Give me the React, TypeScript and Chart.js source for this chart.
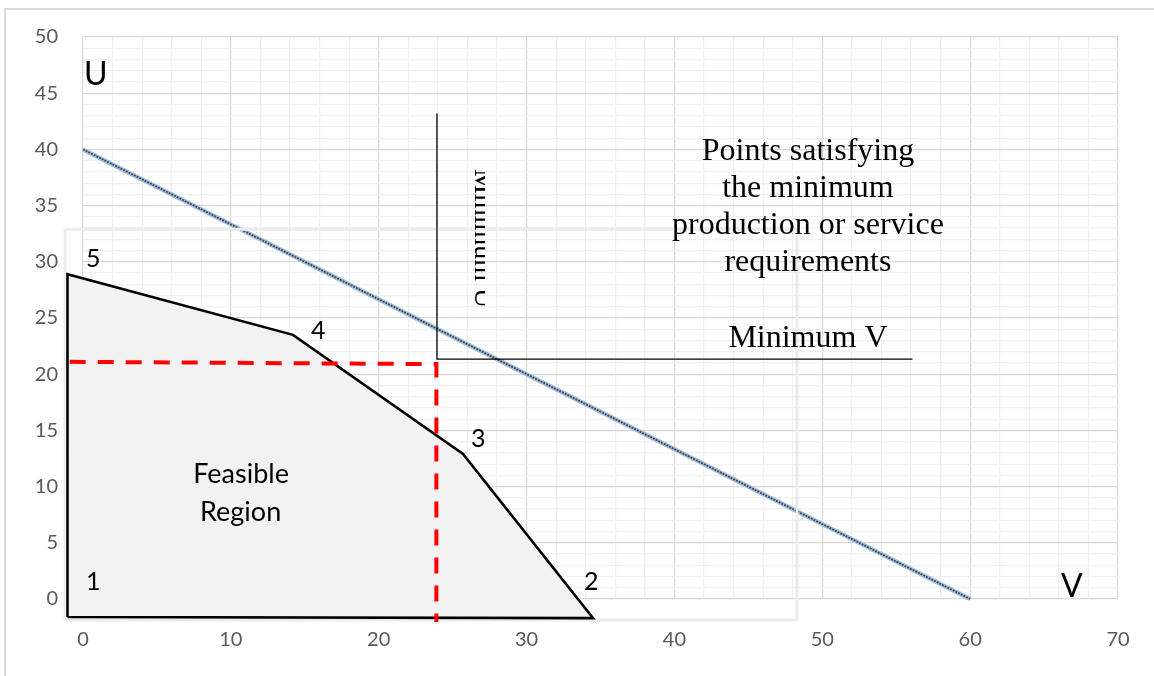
import React, { useEffect, useRef } from "react";
import { Chart, registerables } from "chart.js";

Chart.register(...registerables);

// ---- data (V on x axis, U on y axis) ----
const feasibleV = [-1.05, 34.5, 25.7, 14.2, -1.05, -1.05];
const feasibleU = [-1.6, -1.7, 12.9, 23.5, 28.9, -1.6];

const isoV = [0, 60];
const isoU = [40, 0];

const dashV = [-0.9, 23.9, 23.9];
const dashU = [21.1, 20.9, -2.05];

const minLinesV = [23.94, 23.94, 56.1];
const minLinesU = [43.2, 21.35, 21.35];

const boxV = [-1.22, 48.29, 48.29, -1.22, -1.22];
const boxU = [32.9, 32.9, -1.87, -1.87, 32.9];

const xTickLabels = [0, 10, 20, 30, 40, 50, 60, 70];
const yTickLabels = [0, 5, 10, 15, 20, 25, 30, 35, 40, 45, 50];

const SANS = 'Lato, "Open Sans", sans-serif';
const SERIF = '"Liberation Serif", "DejaVu Serif", serif';

type Note = { text: string; v: number; u: number; size: number; family: string; align: CanvasTextAlign };
const notes: Note[] = [
  { text: "U", v: 0.07, u: 45.73, size: 32, family: SANS, align: "left" },
  { text: "5", v: 0.2, u: 29.54, size: 25, family: SANS, align: "left" },
  { text: "4", v: 15.42, u: 23.13, size: 25, family: SANS, align: "left" },
  { text: "3", v: 26.24, u: 13.52, size: 25, family: SANS, align: "left" },
  { text: "2", v: 33.88, u: 0.8, size: 25, family: SANS, align: "left" },
  { text: "1", v: 0.2, u: 0.8, size: 25, family: SANS, align: "left" },
  { text: "V", v: 66.14, u: 0.18, size: 32, family: SANS, align: "left" },
  { text: "Feasible", v: 10.69, u: 10.32, size: 27, family: SANS, align: "center" },
  { text: "Region", v: 10.66, u: 6.94, size: 27, family: SANS, align: "center" },
  { text: "Points satisfying", v: 49.03, u: 39.06, size: 32, family: SERIF, align: "center" },
  { text: "the minimum", v: 49.03, u: 35.77, size: 32, family: SERIF, align: "center" },
  { text: "production or service", v: 49.03, u: 32.47, size: 32, family: SERIF, align: "center" },
  { text: "requirements", v: 49.03, u: 29.18, size: 32, family: SERIF, align: "center" },
  { text: "Minimum V", v: 49.03, u: 22.42, size: 32, family: SERIF, align: "center" },
];

const pts = (xs: number[], ys: number[]) => xs.map((x, i) => ({ x, y: ys[i] }));

const fillPlugin = {
  id: "feasibleFill",
  beforeDatasetsDraw(chart: any) {
    const idx = chart.data.datasets.findIndex((d: any) => d.label === "Feasible");
    const meta = chart.getDatasetMeta(idx);
    const ctx = chart.ctx;
    ctx.save();
    ctx.beginPath();
    meta.data.forEach((p: any, i: number) => (i === 0 ? ctx.moveTo(p.x, p.y) : ctx.lineTo(p.x, p.y)));
    ctx.closePath();
    ctx.fillStyle = "#f2f2f2";
    ctx.fill();
    ctx.restore();
  },
};

const textPlugin = {
  id: "notes",
  afterDatasetsDraw(chart: any) {
    const ctx = chart.ctx;
    const xs = chart.scales.x;
    const ys = chart.scales.y;
    ctx.save();
    ctx.fillStyle = "#000";
    ctx.textBaseline = "alphabetic";
    notes.forEach((n) => {
      ctx.font = `${n.size}px ${n.family}`;
      ctx.textAlign = n.align;
      ctx.fillText(n.text, xs.getPixelForValue(n.v), ys.getPixelForValue(n.u));
    });
    // rotated, clipped "Minimum U" label
    const bx = xs.getPixelForValue(26.51);
    const by = ys.getPixelForValue(38.26);
    ctx.beginPath();
    ctx.rect(bx - 1, by - 6, 11, 150);
    ctx.clip();
    ctx.translate(bx, by);
    ctx.rotate(Math.PI / 2);
    ctx.font = `28px ${SERIF}`;
    ctx.textAlign = "left";
    ctx.fillText("Minimum U", 0, 0);
    ctx.restore();
  },
};

export default function App() {
  const ref = useRef<HTMLCanvasElement>(null);
  useEffect(() => {
    if (!ref.current) return;
    const chart = new Chart(ref.current, {
      type: "line",
      data: {
        datasets: [
          {
            label: "MinLines",
            data: pts(minLinesV, minLinesU),
            borderColor: "#000",
            borderWidth: 1.3,
            pointRadius: 0,
            clip: false,
            order: 1,
          } as any,
          {
            label: "Dash",
            data: pts(dashV, dashU),
            borderColor: "#ff0000",
            borderWidth: 4,
            borderDash: [16, 12],
            pointRadius: 0,
            clip: false,
            order: 2,
          } as any,
          {
            label: "Feasible",
            data: pts(feasibleV, feasibleU),
            borderColor: "#000",
            borderWidth: 2.6,
            pointRadius: 0,
            clip: false,
            order: 3,
          } as any,
          {
            label: "Box",
            data: pts(boxV, boxU),
            borderColor: "#ececec",
            borderWidth: 3,
            pointRadius: 0,
            clip: false,
            order: 5,
          } as any,
          {
            label: "IsoInner",
            data: pts(isoV, isoU),
            borderColor: "#4a4a4a",
            borderWidth: 1.8,
            borderDash: [2, 1],
            pointRadius: 0,
            clip: false,
            order: 8,
          } as any,
          {
            label: "IsoOuter",
            data: pts(isoV, isoU),
            borderColor: "#9fc0e4",
            borderWidth: 4.5,
            pointRadius: 0,
            clip: false,
            order: 9,
          } as any,
        ],
      },
      options: {
        responsive: false,
        animation: false,
        parsing: true as any,
        layout: { padding: { top: 37, right: 36, left: 0, bottom: 0 } },
        plugins: { legend: { display: false }, tooltip: { enabled: false } },
        elements: { line: { tension: 0 } },
        scales: {
          x: {
            type: "linear",
            min: 0,
            max: 70,
            afterFit: (s: any) => {
              s.height = 77;
            },
            border: { display: false },
            grid: {
              drawTicks: true,
              tickLength: 25,
              tickColor: "rgba(0,0,0,0)",
              lineWidth: 1.2,
              color: (c: any) => (Math.round(c.tick.value) % 10 === 0 ? "#d9d9d9" : "#f0f0f0"),
            },
            ticks: {
              stepSize: 2,
              autoSkip: false,
              maxRotation: 0,
              padding: 4,
              color: "#595959",
              font: { family: SANS, size: 20 },
              callback: (v: any) => (xTickLabels.includes(Math.round(v)) ? String(Math.round(v)) : ""),
            },
          },
          y: {
            type: "linear",
            min: 0,
            max: 50,
            afterFit: (s: any) => {
              s.width = 83;
            },
            border: { display: false },
            grid: {
              drawTicks: true,
              tickLength: 22,
              tickColor: "rgba(0,0,0,0)",
              lineWidth: 1.2,
              color: (c: any) => (Math.round(c.tick.value) % 5 === 0 ? "#d9d9d9" : "#f0f0f0"),
            },
            ticks: {
              stepSize: 1,
              autoSkip: false,
              padding: 3,
              color: "#595959",
              font: { family: SANS, size: 20 },
              callback: (v: any) => (yTickLabels.includes(Math.round(v)) ? String(Math.round(v)) : ""),
            },
          },
        },
      },
      plugins: [fillPlugin, textPlugin],
    });
    return () => chart.destroy();
  }, []);

  return (
    <div style={{ position: "fixed", left: 0, top: 0, width: 1154, height: 676, background: "#fff", overflow: "hidden" }}>
      <div
        style={{
          position: "absolute",
          left: 4,
          top: 8,
          width: 1200,
          height: 700,
          borderLeft: "2px solid #d9d9d9",
          borderTop: "2px solid #d9d9d9",
        }}
      />
      <canvas ref={ref} width={1154} height={676} style={{ position: "absolute", left: 0, top: 0 }} />
    </div>
  );
}
